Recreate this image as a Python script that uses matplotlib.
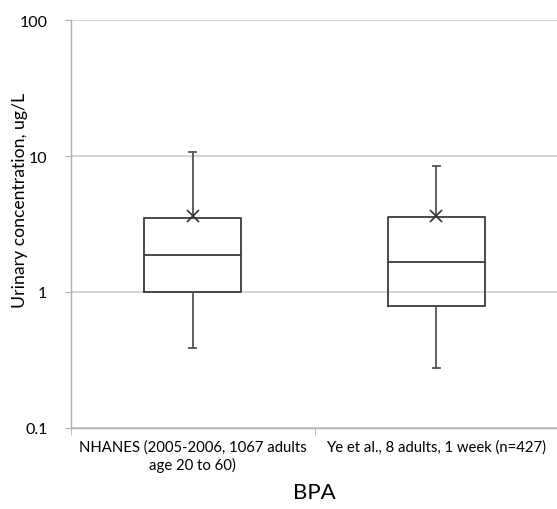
import matplotlib
matplotlib.use("Agg")
import matplotlib.pyplot as plt

categories = ["NHANES (2005-2006, 1067 adults\nage 20 to 60)",
              "Ye et al., 8 adults, 1 week (n=427)"]
whisker_low = [0.39, 0.275]
q1 = [1.0, 0.79]
median = [1.87, 1.67]
q3 = [3.48, 3.55]
whisker_high = [10.7, 8.4]
mean = [3.6, 3.65]
y_ticks = [0.1, 1, 10, 100]
y_tick_labels = ["0.1", "1", "10", "100"]
x_title = "BPA"
y_title = "Urinary concentration, ug/L"

plt.rcParams['font.family'] = ['Lato', 'DejaVu Sans']

fig = plt.figure(figsize=(5.57, 5.10), dpi=100)
W, H = 557, 510
ax = fig.add_axes([71 / W, 1 - 429 / H, (558 - 71) / W, (429 - 21) / H])

stats = []
for i in range(len(categories)):
    stats.append(dict(whislo=whisker_low[i], q1=q1[i], med=median[i],
                      q3=q3[i], whishi=whisker_high[i], mean=mean[i],
                      fliers=[], label=categories[i]))

ax.bxp(stats, positions=[0, 1], widths=0.4, showmeans=True,
       showfliers=False, patch_artist=False,
       boxprops=dict(color="#3a3a3a", linewidth=1.3),
       medianprops=dict(color="#3a3a3a", linewidth=1.3),
       whiskerprops=dict(color="#555555", linewidth=1.3),
       capprops=dict(color="#555555", linewidth=1.3),
       capwidths=0.03,
       meanprops=dict(marker="x", markeredgecolor="#333333",
                      markersize=8, markeredgewidth=1.2))

ax.set_yscale("log")
ax.set_ylim(0.1, 100)
ax.set_xlim(-0.5, 1.5)
ax.set_yticks(y_ticks)
ax.set_yticklabels(y_tick_labels, fontsize=11.5)
ax.minorticks_off()
ax.yaxis.grid(True, color="#c8c8c8", linewidth=1.1)
ax.set_axisbelow(True)

ax.set_xticks([0, 1])
ax.set_xticklabels(categories, fontsize=10.7, linespacing=1.3)
ax.set_xticks([-0.5, 0.5, 1.5], minor=True)
ax.tick_params(axis="x", which="major", length=0, pad=8)
ax.tick_params(axis="x", which="minor", length=5, color="#b0b0b0")
ax.tick_params(axis="y", which="major", length=4, color="#b0b0b0", pad=13)

for s in ["top", "right"]:
    ax.spines[s].set_visible(False)
for s in ["left", "bottom"]:
    ax.spines[s].set_color("#b0b0b0")
    ax.spines[s].set_linewidth(1.0)

fig.text(20 / W, 1 - 200 / H, y_title, rotation=90, fontsize=12.7,
         ha="center", va="center")
fig.text(314 / W, 1 - 493 / H, x_title, fontsize=16, ha="center", va="center")

fig.savefig("out.png", dpi=100)
